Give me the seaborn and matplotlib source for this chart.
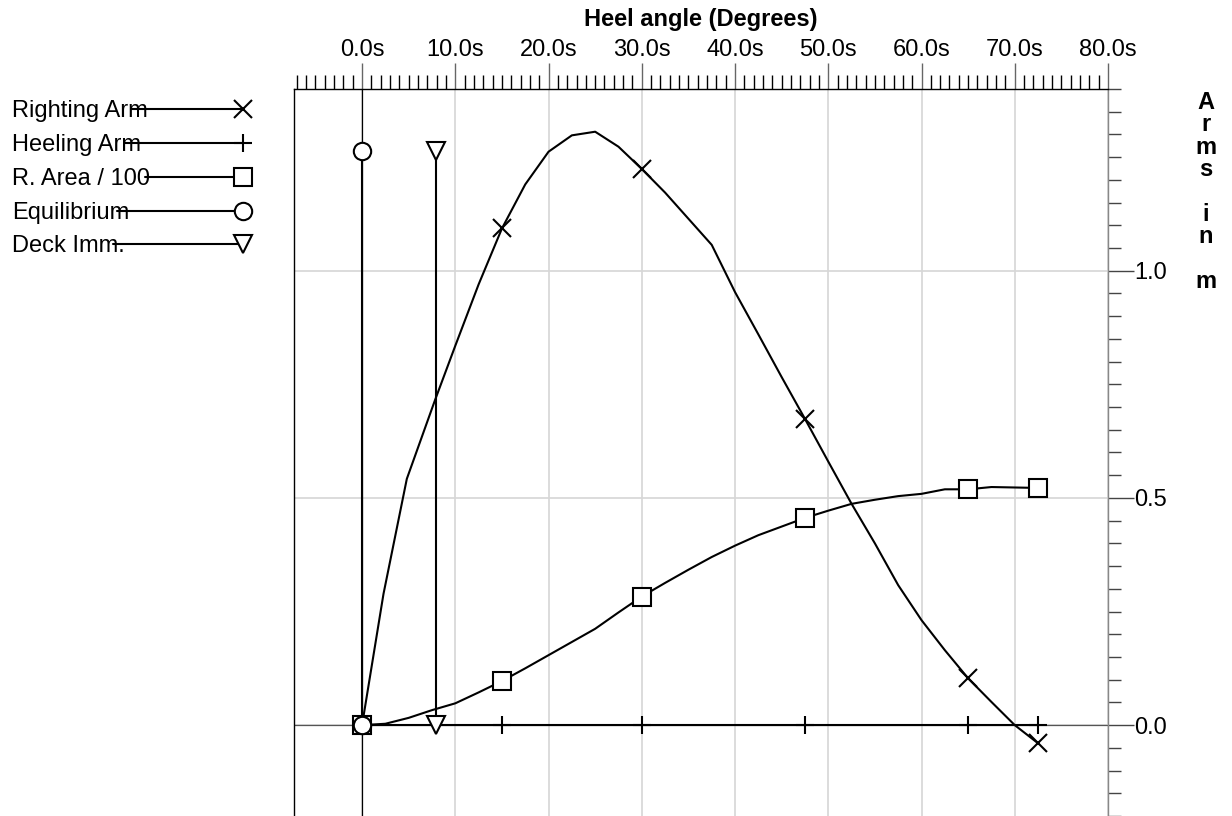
import matplotlib
matplotlib.use("Agg")
import matplotlib.pyplot as plt
from matplotlib.lines import Line2D
from matplotlib.ticker import MultipleLocator, FuncFormatter
import seaborn as sns

# righting arm curve (heel angle in deg, arm in m)
ra_angle = [0, 2.3, 4.8, 7.8, 10, 12.5, 15, 17.5, 20, 22.5, 25, 27.5, 30, 32.5,
            37.5, 40, 42.5, 45, 47.5, 50, 52.5, 55, 57.5, 60, 62.5, 65, 67.5, 70, 72.5]
ra_arm = [0.0, 0.289, 0.542, 0.714, 0.835, 0.97, 1.093, 1.19, 1.262, 1.298, 1.306,
          1.273, 1.224, 1.172, 1.057, 0.953, 0.86, 0.766, 0.674, 0.58, 0.487, 0.40,
          0.308, 0.231, 0.165, 0.103, 0.051, 0.0, -0.040]

# righting area / 100
area_angle = [0, 2.5, 5, 7.5, 10, 12.5, 15, 17.5, 20, 22.5, 25, 27.5, 30, 32.5, 35,
              37.5, 40, 42.5, 45, 47.5, 50, 52.5, 55, 57.5, 60, 62.5, 65, 67.5, 72.5]
area = [0.0, 0.003, 0.016, 0.033, 0.048, 0.072, 0.097, 0.125, 0.154, 0.183, 0.212,
        0.248, 0.283, 0.313, 0.342, 0.370, 0.395, 0.418, 0.437, 0.456, 0.472, 0.487,
        0.496, 0.504, 0.509, 0.519, 0.519, 0.524, 0.522]

# angles where markers are drawn
mark_angles = [0, 15, 30, 47.5, 65, 72.5]

# heeling arm (zero)
ha_angle = [0, 15, 30, 47.5, 65, 72.5]
ha_arm = [0, 0, 0, 0, 0, 0]

# equilibrium and deck immersion angles
eq_angle = [0, 0]
eq_arm = [0, 1.264]
deck_angle = [7.9, 7.9]
deck_arm = [0, 1.264]

legend_labels = ['Righting Arm', 'Heeling Arm', 'R. Area / 100', 'Equilibrium', 'Deck Imm.']
legend_markers = ['x', '+', 's', 'o', 'v']

sns.set_style('white')
plt.rcParams['font.family'] = ['Liberation Sans', 'DejaVu Sans']
plt.rcParams['text.color'] = 'black'
plt.rcParams['axes.labelcolor'] = 'black'
plt.rcParams['xtick.labelcolor'] = 'black'
plt.rcParams['ytick.labelcolor'] = 'black'

fig = plt.figure(figsize=(12.32, 8.16), dpi=100)
ax = fig.add_axes([294 / 1232, 0, (1108 - 294) / 1232, 1 - 89 / 816])

line_kw = dict(color='black', lw=1.5, markersize=12.5, markeredgewidth=1.5,
               markeredgecolor='black', markerfacecolor='white', zorder=4)

ra_idx = [ra_angle.index(a) for a in mark_angles]
area_idx = [area_angle.index(a) for a in mark_angles]

sns.lineplot(x=ra_angle, y=ra_arm, marker='x', markevery=ra_idx, ax=ax,
             estimator=None, sort=False, **{**line_kw, 'markersize': 13})
sns.lineplot(x=ha_angle, y=ha_arm, marker='+', ax=ax, estimator=None, sort=False,
             **{**line_kw, 'markersize': 13})
sns.lineplot(x=area_angle, y=area, marker='s', markevery=area_idx, ax=ax,
             estimator=None, sort=False, **line_kw)
sns.lineplot(x=eq_angle, y=eq_arm, marker='o', ax=ax, estimator=None, sort=False, **line_kw)
sns.lineplot(x=deck_angle, y=deck_arm, marker='v', ax=ax, estimator=None, sort=False, **line_kw)

ax.set_xlim(-7.3, 80)
ax.set_ylim(-0.2, 1.4)

# axes furniture
ax.xaxis.tick_top()
ax.xaxis.set_label_position('top')
ax.yaxis.tick_right()
ax.xaxis.set_major_locator(MultipleLocator(10))
ax.xaxis.set_minor_locator(MultipleLocator(1))
ax.yaxis.set_major_locator(MultipleLocator(0.5))
ax.yaxis.set_minor_locator(MultipleLocator(0.05))
ax.xaxis.set_major_formatter(FuncFormatter(lambda v, p: f'{v:.1f}s'))
ax.yaxis.set_major_formatter(FuncFormatter(lambda v, p: f'{v:.1f}'))

ax.tick_params(axis='x', which='major', direction='out', length=19, width=1,
               color='#666666', pad=1, labelsize=17)
ax.tick_params(axis='x', which='minor', direction='out', length=10, width=1, color='black')
ax.tick_params(axis='y', which='major', direction='out', length=19, width=1,
               color='#444444', pad=0, labelsize=17)
ax.tick_params(axis='y', which='minor', direction='out', length=9.5, width=1, color='#444444')

ax.grid(which='major', color='#d6d6d6', lw=1.2, zorder=0)
ax.axvline(0, color='black', lw=0.9, zorder=1)
ax.axhline(0, color='#555555', lw=0.9, zorder=1)

for side in ['top', 'left']:
    ax.spines[side].set_color('black')
    ax.spines[side].set_linewidth(1)
ax.spines['right'].set_color('#888888')
ax.spines['right'].set_linewidth(1)
ax.spines['bottom'].set_visible(False)

ax.set_xlabel('Heel angle (Degrees)', fontsize=17, fontweight='bold', labelpad=9.5)
ax.set_ylabel('')

fig.text(1206 / 1232, 1 - 192 / 816, 'A\nr\nm\ns\n\ni\nn\n\nm', ha='center', va='center',
         fontsize=17, fontweight='bold', linespacing=0.97)

# legend drawn by hand on the left, lines run over the text
row_y = [109, 143, 177, 211, 244]
line_start = [131, 125, 145, 117, 113]
for lab, mk, ypx, xs in zip(legend_labels, legend_markers, row_y, line_start):
    yf = 1 - ypx / 816
    fig.text(12 / 1232, 1 - (ypx + 8) / 816, lab, fontsize=17, ha='left', va='baseline')
    ms = 13 if mk in ('x', '+') else 12.5
    fig.add_artist(Line2D([xs / 1232, 243 / 1232], [yf, yf], transform=fig.transFigure,
                          color='black', lw=1.5, marker=mk, markevery=[1], markersize=ms,
                          markeredgewidth=1.5, markeredgecolor='black',
                          markerfacecolor='white'))

fig.savefig('out.png', dpi=100)
